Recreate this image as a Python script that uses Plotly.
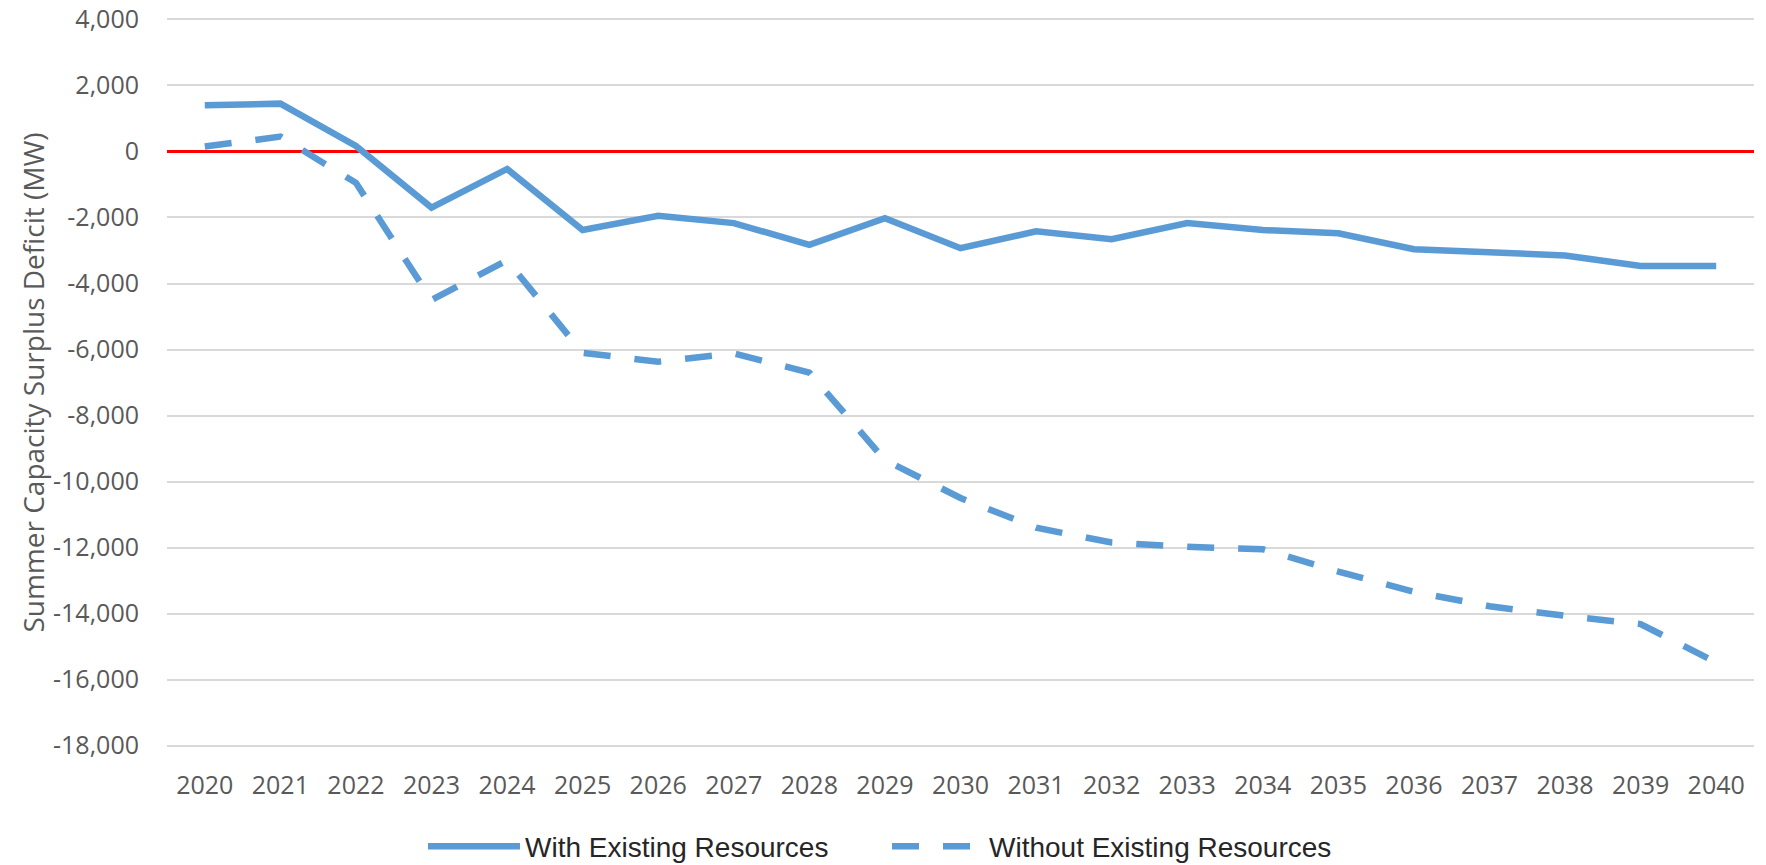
import plotly.graph_objects as go

years = [str(y) for y in range(2020, 2041)]
with_existing = [1400, 1450, 170, -1700, -530, -2380, -1950, -2170, -2830, -2020,
                 -2930, -2420, -2660, -2170, -2380, -2480, -2960, -3060, -3150, -3470, -3470]
without_existing = [150, 450, -950, -4500, -3300, -6100, -6370, -6120, -6700, -9350,
                    -10500, -11400, -11850, -11980, -12050, -12730, -13340, -13780, -14070, -14320, -15480]
y_tickvals = [4000, 2000, 0, -2000, -4000, -6000, -8000, -10000, -12000, -14000, -16000, -18000]
y_ticktext = ["4,000", "2,000", "0", "-2,000", "-4,000", "-6,000", "-8,000", "-10,000",
              "-12,000", "-14,000", "-16,000", "-18,000"]

blue = "#5B9BD5"
grey_text = "#595959"
tick_font = dict(family="Open Sans, sans-serif", size=25, color=grey_text)

fig = go.Figure()
fig.add_trace(go.Scatter(x=years, y=with_existing, mode="lines", name="With Existing Resources",
                         line=dict(color=blue, width=6.5)))
fig.add_trace(go.Scatter(x=years, y=without_existing, mode="lines", name="Without Existing Resources",
                         line=dict(color=blue, width=6.5, dash="27px,24px")))

# the page body has an 8px margin, so the figure is sized to fit the 1766x865 window
fig.update_layout(
    width=1758, height=857,
    margin=dict(l=159, r=12, t=9.5, b=117.5, autoexpand=False),
    paper_bgcolor="white", plot_bgcolor="white",
    showlegend=True,
    legend=dict(orientation="h", x=0.1613, xanchor="left",
                y=-0.1364, yanchor="middle", itemwidth=92, entrywidth=357,
                font=dict(family="Liberation Sans, Arial, sans-serif",
                          size=28, color="#262626")),
    xaxis=dict(type="category", range=[-0.5, 20.5], showgrid=False, showline=False, zeroline=False,
               automargin=False, ticklabeloverflow="allow",
               ticks="outside", ticklen=16, tickcolor="rgba(0,0,0,0)", tickfont=tick_font),
    yaxis=dict(range=[-18045, 4045], tickvals=y_tickvals, ticktext=y_ticktext,
               automargin=False, ticklabeloverflow="allow",
               showgrid=True, gridcolor="#D9D9D9", gridwidth=1.5,
               zeroline=True, zerolinecolor="#FF0000", zerolinewidth=3,
               showline=False, ticks="outside", ticklen=22, tickcolor="rgba(0,0,0,0)",
               tickfont=tick_font,
               title=dict(text="Summer Capacity Surplus Deficit (MW)", standoff=0,
                          font=dict(family="Open Sans, sans-serif", size=28, color=grey_text))),
)

fig.write_html("out.html")
